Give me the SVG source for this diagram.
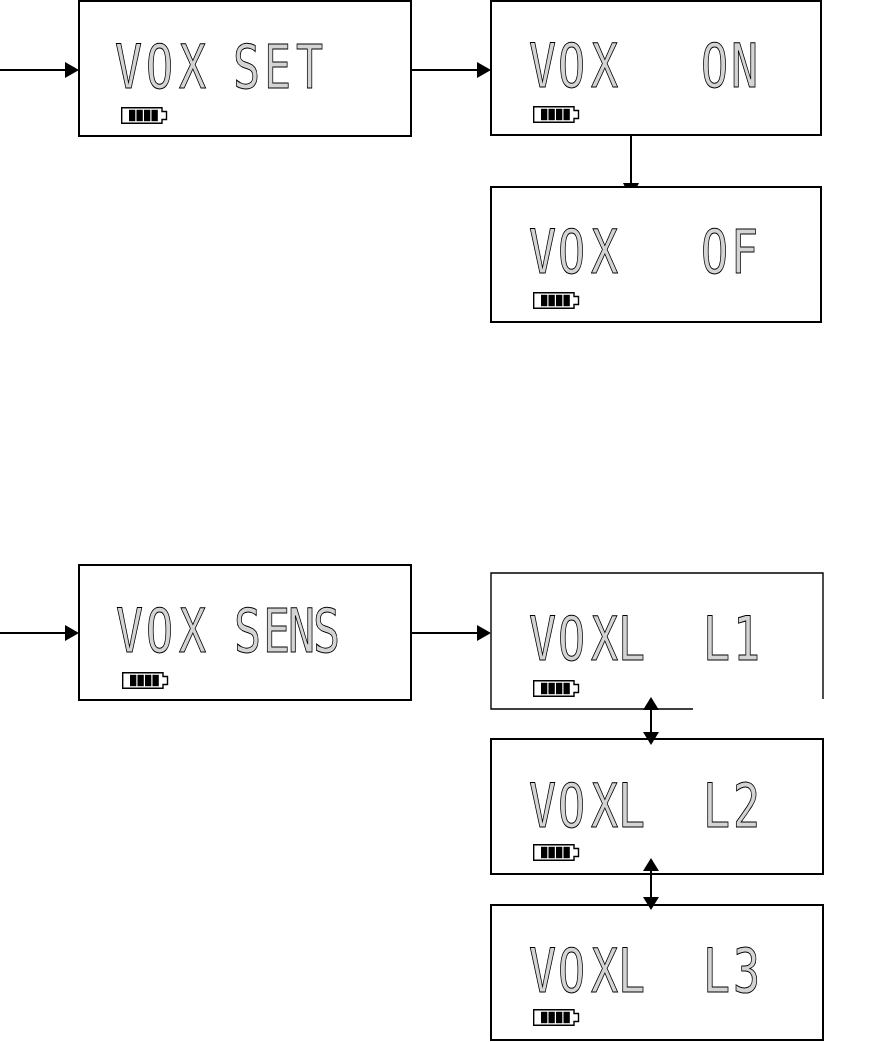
<svg xmlns="http://www.w3.org/2000/svg" width="889" height="1042" viewBox="0 0 889 1042">
<style>
.box{fill:#fff;stroke:#000;stroke-width:2}
.thin{fill:none;stroke:#000;stroke-width:1.4}
.lcd{font-family:"DejaVu Sans Mono","Liberation Mono",monospace;font-size:60px;fill:#d4d4d4;stroke:#000;stroke-width:1}
.ln{stroke:#000;stroke-width:2;fill:none}
.ah{fill:#000}
.bat{fill:#fff;stroke:#000;stroke-width:1.4}
</style>
<defs>
<g id="battery">
<path class="bat" d="M0.7,0.7 H41 V4.5 H45.5 V12.5 H41 V16.3 H0.7 Z"/>
<rect x="8" y="2.8" width="6.3" height="11.4" fill="#000"/>
<rect x="15.5" y="2.8" width="6.3" height="11.4" fill="#000"/>
<rect x="23" y="2.8" width="6.3" height="11.4" fill="#000"/>
<rect x="30.5" y="2.8" width="6.3" height="11.4" fill="#000"/>
</g>
</defs>
<g id="node-vox-set">
<rect class="box" x="79" y="1" width="332" height="135"/>
<text class="lcd" transform="scale(0.75,1)" x="153.3 194.7 238.7 274.7 310.7 352 394.7" y="88">VOX SET</text>
<use href="#battery" x="121" y="107"/>
</g>
<g id="node-vox-on">
<rect class="box" x="491" y="1" width="330" height="134"/>
<text class="lcd" transform="scale(0.75,1)" x="705.3 744 788 861.3 934.7 974.7" y="87">VOX ON</text>
<use href="#battery" x="533" y="106"/>
</g>
<g id="node-vox-of">
<rect class="box" x="491" y="187" width="330" height="135"/>
<text class="lcd" transform="scale(0.75,1)" x="705.3 744 788 861.3 934.7 974.7" y="273">VOX OF</text>
<use href="#battery" x="533" y="292"/>
</g>
<g id="node-vox-sens">
<rect class="box" x="79" y="565" width="332" height="135"/>
<text class="lcd" transform="scale(0.75,1)" x="154.7 194.7 238.7 274.7 312 350.7 384 417.3" y="652">VOX SENS</text>
<use href="#battery" x="122" y="672"/>
</g>
<g id="node-voxl-l1">
<rect x="491" y="573" width="332" height="136" fill="#fff"/>
<path class="thin" d="M823,699 V573 H491 V709 H693"/>
<text class="lcd" transform="scale(0.75,1)" x="705.3 744 788 824 881.3 937.3 977.3" y="660">VOXL L1</text>
<use href="#battery" x="533" y="680"/>
</g>
<g id="node-voxl-l2">
<rect class="box" x="491" y="739" width="332" height="135"/>
<text class="lcd" transform="scale(0.75,1)" x="705.3 744 788 824 881.3 937.3 977.3" y="827">VOXL L2</text>
<use href="#battery" x="533" y="844"/>
</g>
<g id="node-voxl-l3">
<rect class="box" x="491" y="905" width="332" height="135"/>
<text class="lcd" transform="scale(0.75,1)" x="705.3 744 788 824 881.3 937.3 977.3" y="992">VOXL L3</text>
<use href="#battery" x="533" y="1009"/>
</g>
<g id="connectors">
<line class="ln" x1="0" y1="70" x2="67" y2="70"/>
<polygon class="ah" points="65,62 79,70 65,78"/>
<line class="ln" x1="411" y1="70" x2="479" y2="70"/>
<polygon class="ah" points="477,62 491,70 477,78"/>
<line class="ln" x1="631" y1="135" x2="631" y2="184"/>
<polygon class="ah" points="623,183 639,183 637,187 625,187"/>
<line class="ln" x1="0" y1="633" x2="67" y2="633"/>
<polygon class="ah" points="65,625 79,633 65,641"/>
<line class="ln" x1="411" y1="633" x2="479" y2="633"/>
<polygon class="ah" points="477,625 491,633 477,641"/>
<line class="ln" x1="651" y1="706" x2="651" y2="736"/>
<polygon class="ah" points="643,710 651,697 659,710"/>
<polygon class="ah" points="643,732 651,745 659,732"/>
<line class="ln" x1="651" y1="867" x2="651" y2="900"/>
<polygon class="ah" points="643,871 651,858 659,871"/>
<polygon class="ah" points="643,897 651,910 659,897"/>
</g>
</svg>
